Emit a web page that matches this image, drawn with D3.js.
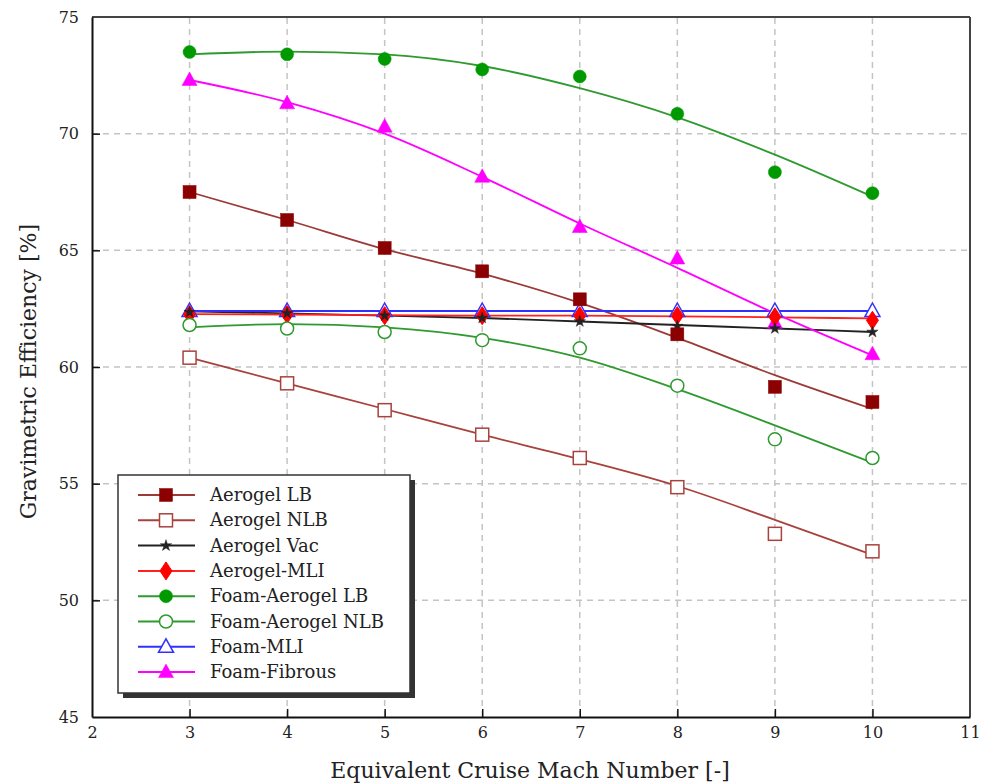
<!DOCTYPE html>
<html>
<head>
<meta charset="utf-8">
<script src="https://cdn.jsdelivr.net/npm/d3@7"></script>
<style>
  body { margin: 0; background: #fff; }
  svg text { font-family: "DejaVu Serif", "Liberation Serif", serif; fill: #222; }
</style>
</head>
<body>
<svg id="chart" width="982" height="784"></svg>
<script>
// mach numbers and tick values
const mach = [3, 4, 5, 6, 7, 8, 9, 10];
const xTicks = [2, 3, 4, 5, 6, 7, 8, 9, 10, 11];
const yTicks = [45, 50, 55, 60, 65, 70, 75];

// measured points
const aeroLB    = [67.5, 66.3, 65.1, 64.1, 62.9, 61.4, 59.15, 58.5];
const aeroNLB   = [60.4, 59.3, 58.15, 57.1, 56.1, 54.85, 52.85, 52.1];
const aeroVac   = [62.35, 62.3, 62.2, 62.1, 61.95, 61.75, 61.65, 61.5];
const aeroMLI   = [62.25, 62.25, 62.2, 62.2, 62.2, 62.2, 62.15, 62.0];
const foamLB    = [73.5, 73.4, 73.2, 72.75, 72.45, 70.85, 68.35, 67.45];
const foamNLB   = [61.8, 61.65, 61.5, 61.15, 60.8, 59.2, 56.9, 56.1];
const foamMLI   = [62.4, 62.4, 62.4, 62.4, 62.4, 62.4, 62.4, 62.4];
const foamFib   = [72.3, 71.3, 70.3, 68.15, 66.0, 64.65, 61.9, 60.55];

// fitted curves drawn through the points
const aeroLBFit  = [67.5, 66.3, 65.05, 64.0, 62.75, 61.25, 59.65, 58.2];
const aeroNLBFit = [60.4, 59.3, 58.2, 57.1, 56.05, 54.9, 53.45, 51.95];
const aeroVacFit = [62.38, 62.3, 62.2, 62.1, 61.95, 61.8, 61.65, 61.5];
const aeroMLIFit = [62.27, 62.25, 62.22, 62.2, 62.2, 62.17, 62.13, 62.08];
const foamLBFit  = [73.4, 73.52, 73.4, 72.9, 71.95, 70.7, 69.1, 67.3];
const foamNLBFit = [61.7, 61.84, 61.7, 61.25, 60.4, 59.05, 57.5, 55.9];
const foamMLIFit = [62.4, 62.4, 62.4, 62.4, 62.4, 62.4, 62.4, 62.4];
const foamFibFit = [72.3, 71.35, 70.0, 68.15, 66.15, 64.25, 62.3, 60.5];

const series = [
  { name: "Aerogel LB",        pts: aeroLB,  fit: aeroLBFit,  line: "#9b3a36", mark: "#8b0000", shape: "square",   fill: true,  z: 4 },
  { name: "Aerogel NLB",       pts: aeroNLB, fit: aeroNLBFit, line: "#a8423c", mark: "#a8423c", shape: "square",   fill: false, z: 5 },
  { name: "Aerogel Vac",       pts: aeroVac, fit: aeroVacFit, line: "#222222", mark: "#222222", shape: "star",     fill: true,  z: 3 },
  { name: "Aerogel-MLI",       pts: aeroMLI, fit: aeroMLIFit, line: "#ff2020", mark: "#ff0000", shape: "diamond",  fill: true,  z: 2 },
  { name: "Foam-Aerogel LB",   pts: foamLB,  fit: foamLBFit,  line: "#2f9a2f", mark: "#009a00", shape: "circle",   fill: true,  z: 6 },
  { name: "Foam-Aerogel NLB",  pts: foamNLB, fit: foamNLBFit, line: "#2f9a2f", mark: "#2f9a2f", shape: "circle",   fill: false, z: 7 },
  { name: "Foam-MLI",          pts: foamMLI, fit: foamMLIFit, line: "#3030ff", mark: "#3030ff", shape: "triangle", fill: false, z: 1 },
  { name: "Foam-Fibrous",      pts: foamFib, fit: foamFibFit, line: "#ff00ff", mark: "#ff00ff", shape: "triangle", fill: true,  z: 0 }
];

const svg = d3.select("#chart");
const margin = { left: 92, top: 17, right: 12, bottom: 67 };
const W = 982, H = 784;

const x = d3.scaleLinear().domain([2, 11]).range([margin.left, W - margin.right]);
const y = d3.scaleLinear().domain([45, 75]).range([H - margin.bottom, margin.top]);

// dashed grid
svg.append("g").selectAll("line").data(xTicks.slice(1, -1)).join("line")
  .attr("x1", d => x(d)).attr("x2", d => x(d))
  .attr("y1", y(45)).attr("y2", y(75))
  .attr("stroke", "#c4c4c4").attr("stroke-width", 1.5).attr("stroke-dasharray", "6,5");
svg.append("g").selectAll("line").data(yTicks.slice(1, -1)).join("line")
  .attr("x1", x(2)).attr("x2", x(11))
  .attr("y1", d => y(d)).attr("y2", d => y(d))
  .attr("stroke", "#c4c4c4").attr("stroke-width", 1.5).attr("stroke-dasharray", "6,5");

// frame: top and right in grey, axes in black
svg.append("line").attr("x1", x(2)).attr("x2", x(11)).attr("y1", y(75)).attr("y2", y(75))
  .attr("stroke", "#444").attr("stroke-width", 2);
svg.append("line").attr("x1", x(11)).attr("x2", x(11)).attr("y1", y(75)).attr("y2", y(45))
  .attr("stroke", "#444").attr("stroke-width", 2);

const xAxis = svg.append("g").attr("transform", `translate(0,${y(45)})`)
  .call(d3.axisBottom(x).tickValues(xTicks).tickFormat(d3.format("d")).tickSizeInner(-8).tickSizeOuter(0).tickPadding(10));
const yAxis = svg.append("g").attr("transform", `translate(${x(2)},0)`)
  .call(d3.axisLeft(y).tickValues(yTicks).tickFormat(d3.format("d")).tickSizeInner(-8).tickSizeOuter(0).tickPadding(13));
[xAxis, yAxis].forEach(g => {
  g.select(".domain").attr("stroke", "#111").attr("stroke-width", 2);
  g.selectAll(".tick line").attr("stroke", "#111").attr("stroke-width", 1.5);
  g.selectAll(".tick text").attr("font-size", 16).attr("font-family", "DejaVu Serif").attr("fill", "#333");
});
// end ticks would sit on the frame
xAxis.selectAll(".tick").filter(d => d === 2 || d === 11).select("line").remove();
yAxis.selectAll(".tick").filter(d => d === 45 || d === 75).select("line").remove();

svg.append("text").attr("x", (x(2) + x(11)) / 2 - 1).attr("y", 778)
  .attr("text-anchor", "middle").attr("font-size", 22)
  .text("Equivalent Cruise Mach Number [-]");
svg.append("text").attr("transform", `translate(36,${y(59.8)}) rotate(-90)`)
  .attr("text-anchor", "middle").attr("font-size", 22)
  .text("Gravimetric Efficiency [%]");

const line = d3.line().x((d, i) => x(mach[i])).y(d => y(d)).curve(d3.curveMonotoneX);

const drawMarker = (g, s, cx, cy) => {
  const stroke = s.mark, fill = s.fill ? s.mark : "#fff";
  switch (s.shape) {
    case "square":
      g.append("rect").attr("x", cx - 6.5).attr("y", cy - 6.5).attr("width", 13).attr("height", 13)
        .attr("fill", fill).attr("stroke", stroke).attr("stroke-width", s.fill ? 0.5 : 1.5);
      break;
    case "circle":
      g.append("circle").attr("cx", cx).attr("cy", cy).attr("r", 6.5)
        .attr("fill", fill).attr("stroke", stroke).attr("stroke-width", s.fill ? 0.5 : 1.5);
      break;
    case "diamond":
      g.append("path").attr("d", `M${cx},${cy - 9}L${cx + 6},${cy}L${cx},${cy + 9}L${cx - 6},${cy}Z`)
        .attr("fill", fill).attr("stroke", stroke);
      break;
    case "triangle":
      g.append("path").attr("d", `M${cx},${cy - 8}L${cx + 7.5},${cy + 5.5}L${cx - 7.5},${cy + 5.5}Z`)
        .attr("fill", fill).attr("stroke", stroke).attr("stroke-width", s.fill ? 0.5 : 1.5);
      break;
    case "star":
      g.append("path").attr("d", d3.symbol(d3.symbolStar, 40)()).attr("transform", `translate(${cx},${cy})`)
        .attr("fill", fill).attr("stroke", stroke).attr("stroke-width", 0.5);
      break;
  }
};

// fit lines first, then markers (stacked as in the original)
series.forEach(s => {
  svg.append("path").datum(s.fit).attr("d", line)
    .attr("fill", "none").attr("stroke", s.line).attr("stroke-width", 1.8);
});
series.slice().sort((a, b) => a.z - b.z).forEach(s => {
  const g = svg.append("g");
  s.pts.forEach((v, i) => drawMarker(g, s, x(mach[i]), y(v)));
});

// legend with drop shadow
const lg = { x: 118, y: 475, w: 292, h: 218 };
svg.append("rect").attr("x", lg.x + 5).attr("y", lg.y + 5).attr("width", lg.w).attr("height", lg.h).attr("fill", "#333");
svg.append("rect").attr("x", lg.x).attr("y", lg.y).attr("width", lg.w).attr("height", lg.h)
  .attr("fill", "#fff").attr("stroke", "#333").attr("stroke-width", 1.5);
series.forEach((s, i) => {
  const ry = 495 + i * 25.3;
  const g = svg.append("g");
  g.append("line").attr("x1", 138).attr("x2", 195).attr("y1", ry).attr("y2", ry)
    .attr("stroke", s.line).attr("stroke-width", 2);
  drawMarker(g, s, 166, ry);
  g.append("text").attr("x", 210).attr("y", ry + 6).attr("font-size", 18).text(s.name);
});
</script>
</body>
</html>
